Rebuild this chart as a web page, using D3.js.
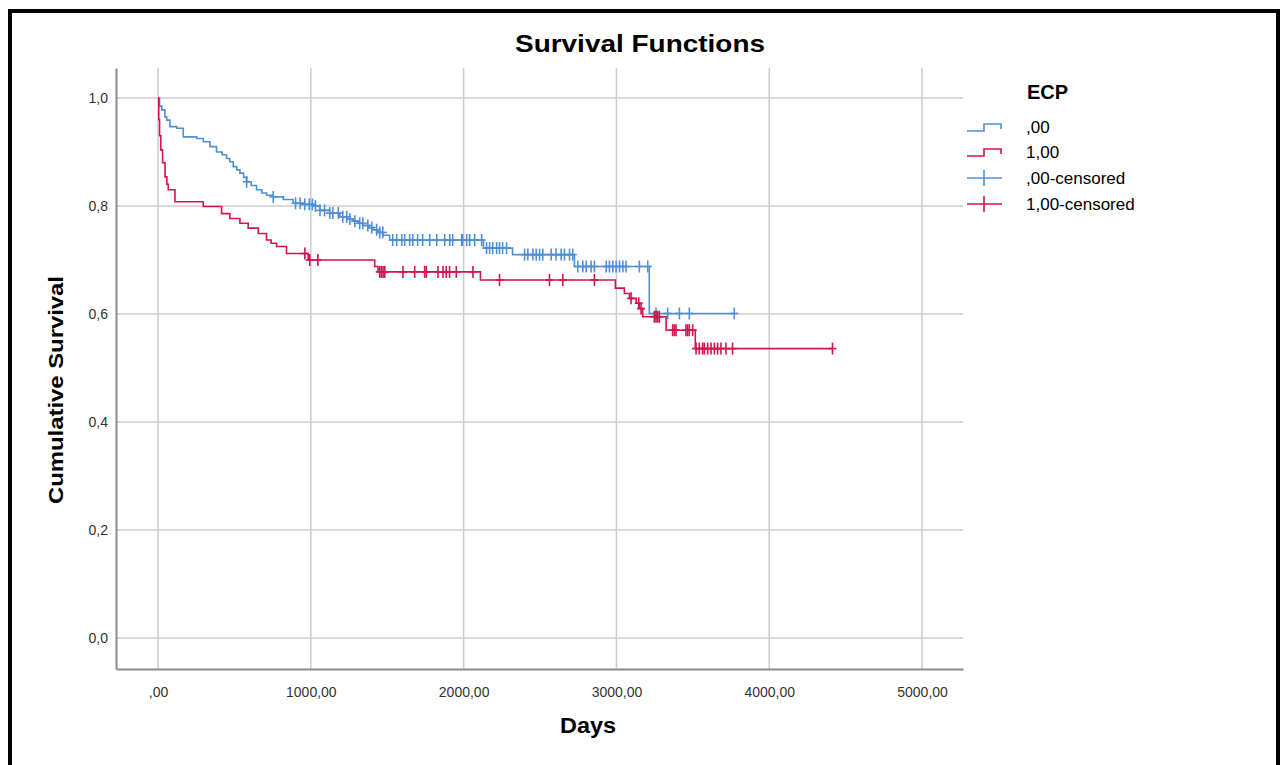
<!DOCTYPE html>
<html>
<head>
<meta charset="utf-8">
<script src="https://cdn.jsdelivr.net/npm/d3@7"></script>
<style>
  body { margin: 0; background: #fff; }
  svg text { font-family: "Liberation Sans", Arial, sans-serif; }
</style>
</head>
<body>
<div id="chart"></div>
<script>
// Kaplan-Meier steps: time (days) and survival after the event
const groupNames = [",00", "1,00"];
const blueTimes = [0, 10, 24, 45, 57, 78, 122, 165, 253, 296, 340, 383, 420, 448, 470, 492, 515, 536, 560, 580, 610, 645, 680, 710, 754, 820, 884, 960, 1015, 1059, 1124, 1190, 1240, 1277, 1310, 1342, 1380, 1407, 1440, 1473, 1516, 2130, 2320, 2725, 3215];
const blueSurv  = [1.0, 0.985, 0.978, 0.965, 0.959, 0.947, 0.944, 0.928, 0.925, 0.919, 0.910, 0.900, 0.895, 0.888, 0.882, 0.873, 0.867, 0.861, 0.853, 0.845, 0.838, 0.830, 0.824, 0.820, 0.817, 0.812, 0.805, 0.803, 0.800, 0.792, 0.787, 0.780, 0.776, 0.772, 0.768, 0.764, 0.760, 0.756, 0.751, 0.746, 0.737, 0.722, 0.710, 0.688, 0.601];
const blueEnd = 3771;
const blueCensored = [580, 754, 900, 930, 960, 990, 1010, 1030, 1060, 1090, 1124, 1144, 1180, 1209, 1235, 1255, 1288, 1320, 1340, 1373, 1399, 1431, 1451, 1471, 1536, 1562, 1595, 1614, 1647, 1667, 1699, 1732, 1778, 1824, 1876, 1909, 1928, 1987, 1993, 2020, 2039, 2072, 2118, 2150, 2170, 2190, 2216, 2235, 2255, 2281, 2399, 2420, 2453, 2475, 2497, 2518, 2573, 2605, 2638, 2660, 2693, 2714, 2747, 2780, 2802, 2834, 2856, 2933, 2954, 2976, 2998, 3020, 3042, 3063, 3150, 3205, 3259, 3335, 3412, 3477, 3771];

const redTimes = [0, 5, 10, 18, 30, 46, 58, 67, 111, 296, 416, 470, 536, 590, 656, 710, 740, 776, 841, 983, 1418, 1440, 2110, 2993, 3052, 3085, 3129, 3150, 3172, 3325, 3516];
const redSurv  = [1.0, 0.96, 0.93, 0.904, 0.88, 0.854, 0.84, 0.83, 0.808, 0.799, 0.786, 0.777, 0.768, 0.759, 0.749, 0.737, 0.731, 0.725, 0.712, 0.700, 0.688, 0.678, 0.663, 0.648, 0.638, 0.629, 0.620, 0.610, 0.595, 0.570, 0.536];
const redEnd = 4414;
const redCensored = [961, 993, 1046, 1451, 1462, 1473, 1484, 1603, 1680, 1745, 1756, 1832, 1865, 1886, 1908, 1952, 2061, 2235, 2562, 2649, 2856, 3096, 3146, 3161, 3248, 3259, 3270, 3281, 3368, 3379, 3390, 3455, 3466, 3477, 3499, 3521, 3542, 3564, 3575, 3597, 3619, 3641, 3662, 3684, 3717, 3760, 4414];

const xTicks = [0, 1000, 2000, 3000, 4000, 5000];
const yTicks = [0, 0.2, 0.4, 0.6, 0.8, 1.0];
const legendLabels = [",00", "1,00", ",00-censored", "1,00-censored"];

const W = 1281, H = 765;
const blue = "#4f8fd8", red = "#d4144a";

const svg = d3.select("#chart").append("svg")
  .attr("width", W).attr("height", H);

// outer frame
svg.append("rect")
  .attr("x", 10).attr("y", 11)
  .attr("width", 1268).attr("height", 800)
  .attr("fill", "none").attr("stroke", "#000").attr("stroke-width", 4);

const xScale = d3.scaleLinear().domain([-275, 5268]).range([116, 963]);
const yScale = d3.scaleLinear().domain([-0.0574, 1.0556]).range([669, 68]);

// grid
svg.append("g").selectAll("line").data(xTicks).join("line")
  .attr("x1", d => xScale(d)).attr("x2", d => xScale(d))
  .attr("y1", yScale.range()[1]).attr("y2", yScale.range()[0])
  .attr("stroke", "#cccccc").attr("stroke-width", 1.5);
svg.append("g").selectAll("line").data(yTicks).join("line")
  .attr("x1", xScale.range()[0]).attr("x2", xScale.range()[1])
  .attr("y1", d => yScale(d)).attr("y2", d => yScale(d))
  .attr("stroke", "#cccccc").attr("stroke-width", 1.5);

// axes
const xAxis = d3.axisBottom(xScale)
  .tickValues(xTicks)
  .tickSize(0)
  .tickFormat(d => d === 0 ? ",00" : d + ",00");
const gx = svg.append("g").attr("transform", "translate(0,669)").call(xAxis);
gx.select(".domain").attr("stroke", "#8a8a8a").attr("stroke-width", 2);
gx.selectAll("text").attr("dy", 0).attr("y", 28).attr("font-size", 14).attr("fill", "#333");

const yAxis = d3.axisLeft(yScale)
  .tickValues(yTicks)
  .tickSize(0)
  .tickFormat(d => d3.format(".1f")(d).replace(".", ","));
const gy = svg.append("g").attr("transform", "translate(116,0)").call(yAxis);
gy.select(".domain").attr("stroke", "#8a8a8a").attr("stroke-width", 2);
gy.selectAll("text").attr("x", -8).attr("font-size", 14).attr("fill", "#333");

// curves
const line = d3.line()
  .x(d => xScale(d[0]))
  .y(d => yScale(d[1]))
  .curve(d3.curveStepAfter);

function stepPoints(times, surv, end) {
  const pts = times.map((t, i) => [t, surv[i]]);
  pts.push([end, surv[surv.length - 1]]);
  return pts;
}
function survAt(times, surv, t) {
  let s = surv[0];
  for (let i = 0; i < times.length; i++) if (times[i] <= t) s = surv[i];
  return s;
}

const groups = [
  { name: groupNames[0], times: blueTimes, surv: blueSurv, end: blueEnd, cens: blueCensored, color: blue },
  { name: groupNames[1], times: redTimes, surv: redSurv, end: redEnd, cens: redCensored, color: red }
];

groups.forEach(g => {
  svg.append("path")
    .datum(stepPoints(g.times, g.surv, g.end))
    .attr("d", line)
    .attr("fill", "none")
    .attr("stroke", g.color)
    .attr("stroke-width", 1.6);

  const marks = svg.append("g").selectAll("g").data(g.cens).join("g")
    .attr("transform", d => `translate(${xScale(d)},${yScale(survAt(g.times, g.surv, d))})`);
  marks.append("line").attr("x1", 0).attr("x2", 0).attr("y1", -6).attr("y2", 6)
    .attr("stroke", g.color).attr("stroke-width", 1.6);
  marks.append("line").attr("x1", -4).attr("x2", 4).attr("y1", 0).attr("y2", 0)
    .attr("stroke", g.color).attr("stroke-width", 1.6);
});

// titles
svg.append("text").attr("x", 640).attr("y", 52)
  .attr("text-anchor", "middle").attr("font-size", 24).attr("font-weight", "bold")
  .attr("textLength", 250).attr("lengthAdjust", "spacingAndGlyphs")
  .text("Survival Functions");
svg.append("text").attr("x", 588).attr("y", 733)
  .attr("text-anchor", "middle").attr("font-size", 22).attr("font-weight", "bold")
  .attr("textLength", 56).attr("lengthAdjust", "spacingAndGlyphs")
  .text("Days");
svg.append("text")
  .attr("transform", "translate(63,390) rotate(-90)")
  .attr("text-anchor", "middle").attr("font-size", 21).attr("font-weight", "bold")
  .attr("textLength", 228).attr("lengthAdjust", "spacingAndGlyphs")
  .text("Cumulative Survival");

// legend
const legend = svg.append("g");
legend.append("text").attr("x", 1027).attr("y", 99)
  .attr("font-size", 20).attr("font-weight", "bold").text("ECP");
const legendColors = [blue, red, blue, red];
const rowY = [127, 152, 178, 204];
legendLabels.forEach((lab, i) => {
  const cy = rowY[i];
  if (i < 2) {
    legend.append("path")
      .attr("d", `M967,${cy + 4} H984 V${cy - 3} H1001 V${cy + 2}`)
      .attr("fill", "none").attr("stroke", legendColors[i]).attr("stroke-width", 1.6);
  } else {
    legend.append("line").attr("x1", 967).attr("x2", 1002).attr("y1", cy).attr("y2", cy)
      .attr("stroke", legendColors[i]).attr("stroke-width", 1.6);
    legend.append("line").attr("x1", 984).attr("x2", 984).attr("y1", cy - 8).attr("y2", cy + 8)
      .attr("stroke", legendColors[i]).attr("stroke-width", 1.6);
  }
  legend.append("text").attr("x", 1026).attr("y", cy + 6)
    .attr("font-size", 17).text(lab);
});
</script>
</body>
</html>
